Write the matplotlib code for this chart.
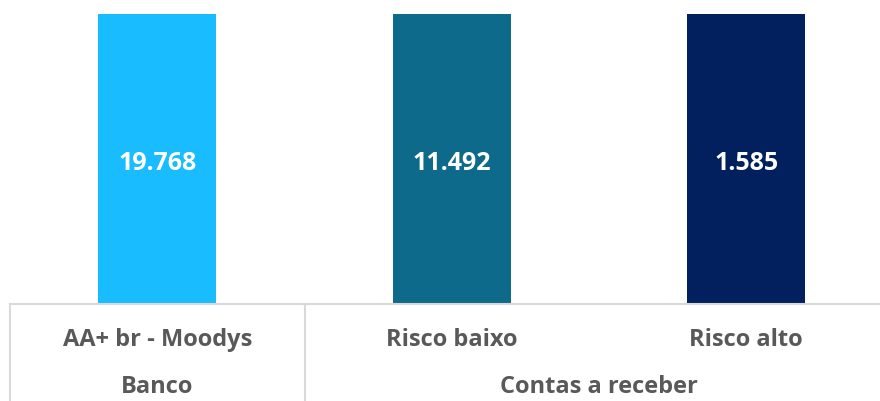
import numpy as np
import matplotlib.pyplot as plt
from matplotlib.transforms import blended_transform_factory

## Data
categories = ['AA+ br - Moodys', 'Risco baixo', 'Risco alto']
groups = ['Banco', 'Contas a receber']
group_spans = [(0, 0), (1, 2)]
values = [19768, 11492, 1585]
share = [100, 100, 100]  # each bar fills 100%
colors = ['#19BDFF', '#0E6A8A', '#02205E']

label_color = '#595959'
grid_color = '#D9D9D9'
plt.rcParams['font.family'] = ['Open Sans', 'DejaVu Sans']

W, H = 880, 401
fig = plt.figure(figsize=(W / 100, H / 100), dpi=100)
# axis area: x from 10 px, baseline at 304 px from top
ax = fig.add_axes([10 / W, (H - 304) / H, (W - 10) / W, 304 / H])

step = 294.5
x = np.arange(len(categories))
ax.bar(x, share, width=118 / step, color=colors)
ax.set_xlim(-0.5, -0.5 + (W - 10) / step)
ax.set_ylim(0, 100 * 304 / 290)

for xi, v in zip(x, values):
    ax.text(xi, 100 * 141 / 290, f'{v:,}'.replace(',', '.'), ha='center', va='center',
            color='white', fontsize=18, fontweight='bold')

for s in ['top', 'right', 'left']:
    ax.spines[s].set_visible(False)
ax.spines['bottom'].set_color(grid_color)
ax.spines['bottom'].set_linewidth(1.5)
ax.set_xticks([])
ax.set_yticks([])

tr = blended_transform_factory(ax.transData, ax.transAxes)
ax_h = 304.0
for xi, c in zip(x, categories):
    ax.text(xi, -(340 - 304) / ax_h, c, transform=tr, ha='center', va='center',
            color=label_color, fontsize=17, fontweight='bold')
for g, (a, b) in zip(groups, group_spans):
    ax.text((a + b) / 2, -(387 - 304) / ax_h, g, transform=tr, ha='center', va='center',
            color=label_color, fontsize=17, fontweight='bold')

# group separators
for xs in [-0.5, 0.5]:
    ax.plot([xs, xs], [0, -(H - 304) / ax_h], transform=tr, color=grid_color,
            lw=1.5, clip_on=False)

fig.savefig('out.png', dpi=100)
